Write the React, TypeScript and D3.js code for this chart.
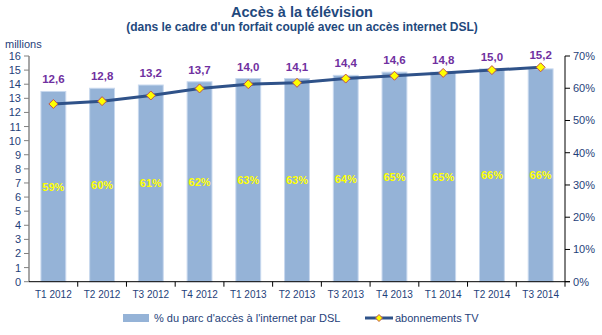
import React from "react";
import * as d3 from "d3";

const categories = ["T1 2012","T2 2012","T3 2012","T4 2012","T1 2013","T2 2013","T3 2013","T4 2013","T1 2014","T2 2014","T3 2014"];
const abonnementsTV = [12.6,12.8,13.2,13.7,14.0,14.1,14.4,14.6,14.8,15.0,15.2];
const partDSL = [59,60,61,62,63,63,64,65,65,66,66];
const leftTicks = d3.range(0, 17, 1);
const rightTicks = d3.range(0, 71, 10);

const W = 602, H = 335;
const X0 = 29, X1 = 565, Y0 = 281.7, Y1 = 56;
const FONT = "Arial, 'Liberation Sans', sans-serif";
const AXIS_TEXT = "#1F3F7A";

export default function App() {
  const x = d3.scaleBand<string>().domain(categories).range([X0, X1]).padding(0);
  const yL = d3.scaleLinear().domain([0, 16]).range([Y0, Y1]);
  const yR = d3.scaleLinear().domain([0, 70]).range([Y0, Y1]);
  const bw = x.bandwidth() * 0.51;
  const cx = (c: string) => (x(c) as number) + x.bandwidth() / 2;
  const line = d3.line<number>().x((_, i) => cx(categories[i])).y((d) => yL(d));
  const fmt = (v: number) => v.toFixed(1).replace(".", ",");

  return (
    <svg width={W} height={H} style={{ position: "absolute", left: 0, top: 0, fontFamily: FONT }}>
      <rect width={W} height={H} fill="#fff" />
      <text x={302} y={17} textAnchor="middle" fontSize={14.5} fontWeight="bold" fill="#1F497D">Accès à la télévision</text>
      <text x={302} y={31} textAnchor="middle" fontSize={12} fontWeight="bold" fill="#1F497D">(dans le cadre d'un forfait couplé avec un accès internet DSL)</text>
      <text x={5} y={48} fontSize={11} fill={AXIS_TEXT}>millions</text>

      {/* bars */}
      {partDSL.map((p, i) => {
        const c = categories[i];
        return (
          <rect key={c} x={cx(c) - bw / 2} y={yR(p)} width={bw} height={Y0 - yR(p)} fill="#95B3D7" stroke="#C8D8EE" strokeWidth={1} />
        );
      })}
      {partDSL.map((p, i) => {
        const c = categories[i];
        return (
          <text key={c} x={cx(c)} y={(yR(p) + Y0) / 2 + 4} textAnchor="middle" fontSize={11} fontWeight="bold" fill="#FFFF00">{p}%</text>
        );
      })}

      {/* left axis */}
      <line x1={X0} x2={X0} y1={Y1} y2={Y0} stroke="#A6A6A6" strokeWidth={2} />
      {leftTicks.map((t) => (
        <g key={t}>
          <line x1={X0 - 5} x2={X0} y1={yL(t)} y2={yL(t)} stroke="#808080" />
          <text x={X0 - 8} y={yL(t) + 4} textAnchor="end" fontSize={11} fill={AXIS_TEXT}>{t}</text>
        </g>
      ))}

      {/* right axis */}
      <line x1={X1} x2={X1} y1={Y1} y2={Y0} stroke="#000" strokeWidth={1} />
      {rightTicks.map((t) => (
        <g key={t}>
          <line x1={X1} x2={X1 + 5} y1={yR(t)} y2={yR(t)} stroke="#000" />
          <text x={X1 + 8} y={yR(t) + 4} textAnchor="start" fontSize={11} fill={AXIS_TEXT}>{t}%</text>
        </g>
      ))}

      {/* x axis */}
      <line x1={X0} x2={X1 + 5} y1={Y0} y2={Y0} stroke="#000" strokeWidth={1} />
      {categories.map((c) => (
        <g key={c}>
          <line x1={(x(c) as number) + x.bandwidth()} x2={(x(c) as number) + x.bandwidth()} y1={Y0} y2={Y0 + 5} stroke="#000" />
          <text x={cx(c)} y={Y0 + 16} textAnchor="middle" fontSize={10} fill={AXIS_TEXT}>{c}</text>
        </g>
      ))}

      {/* line */}
      <path d={line(abonnementsTV) || ""} fill="none" stroke="#2F5289" strokeWidth={3} />
      {abonnementsTV.map((v, i) => {
        const c = categories[i];
        const px = cx(c), py = yL(v);
        const s = 4.5;
        return (
          <path key={c} d={`M${px},${py - s}L${px + s},${py}L${px},${py + s}L${px - s},${py}Z`} fill="#FFFF00" stroke="#C0504D" strokeWidth={1} />
        );
      })}
      {abonnementsTV.map((v, i) => {
        const c = categories[i];
        const top = Math.min(yL(v), yR(partDSL[i]));
        return (
          <text key={c} x={cx(c)} y={top - 12 + 4} textAnchor="middle" fontSize={11.5} fontWeight="bold" fill="#7030A0">{fmt(v)}</text>
        );
      })}

      {/* legend */}
      <rect x={123} y={314} width={26} height={8} fill="#95B3D7" />
      <text x={154} y={322} fontSize={11} fill="#1F3F7A">% du parc d'accès à l'internet par DSL</text>
      <line x1={365} x2={393} y1={318} y2={318} stroke="#2F5289" strokeWidth={3} />
      <path d="M379,314.5L382.5,318L379,321.5L375.5,318Z" fill="#FFFF00" stroke="#C0504D" strokeWidth={1} />
      <text x={395} y={322} fontSize={11} fill="#1F3F7A">abonnements TV</text>
    </svg>
  );
}
